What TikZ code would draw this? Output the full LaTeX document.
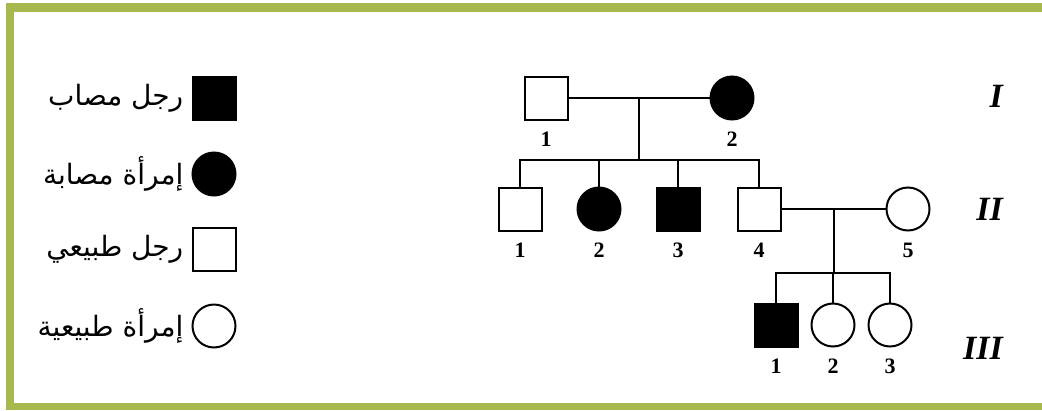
\documentclass[tikz,border=0pt]{standalone}
\usepackage{fontspec}
\setmainfont{Liberation Serif}
\newfontfamily\arabicfont[Script=Arabic]{DejaVu Sans}
\TeXXeTstate=1
\usepackage{tikz}
\usetikzlibrary{positioning}
\definecolor{frameolive}{RGB}{166,185,78}

\begin{document}
\begin{tikzpicture}[
    x=1pt, y=-1pt,
    node distance=10pt,
    person/.style={draw, line width=2pt, minimum size=43pt, inner sep=0pt},
    male/.style={person, rectangle},
    female/.style={person, circle},
    amale/.style={male, fill=black},
    afemale/.style={female, fill=black},
    num/.style={font=\fontsize{22}{22}\selectfont\bfseries, inner sep=0pt},
    gen/.style={font=\fontsize{34}{34}\selectfont\bfseries\itshape, inner sep=0pt, anchor=east},
    legtext/.style={font=\fontsize{28}{32}\arabicfont, inner sep=0pt, anchor=east},
    tie/.style={line width=2pt},
]
    \useasboundingbox (0,0) rectangle (1042,410);
    % frame
    \fill[frameolive] (6,3) rectangle (14,410);
    \fill[frameolive] (6,3) rectangle (1042,12);
    \fill[frameolive] (6,403) rectangle (1042,410);

    % Legend
    \node[amale] (lg1) at (214,98) {};
    \node[afemale] (lg2) at (214,174) {};
    \node[male] (lg3) at (214,249) {};
    \node[female] (lg4) at (214,326) {};
    \node[legtext, left=8pt of lg1.west] (lt1) {\beginR رجل مصاب\endR};
    \node[legtext, left=8pt of lg2.west] (lt2) {\beginR إمرأة مصابة\endR};
    \node[legtext, left=8pt of lg3.west] (lt3) {\beginR رجل طبيعي\endR};
    \node[legtext, left=8pt of lg4.west] (lt4) {\beginR إمرأة طبيعية\endR};

    % Generation I
    \node[male] (i1) at (546,98) {};
    \node[afemale] (i2) at (732,98) {};
    \node[num, below=11pt of i1] {1};
    \node[num, below=11pt of i2] {2};

    % Generation II
    \node[male] (ii1) at (520,209) {};
    \node[afemale] (ii2) at (599,209) {};
    \node[amale] (ii3) at (678,209) {};
    \node[male] (ii4) at (759,209) {};
    \node[female] (ii5) at (908,209) {};
    \node[num, below=11pt of ii1] {1};
    \node[num, below=11pt of ii2] {2};
    \node[num, below=11pt of ii3] {3};
    \node[num, below=11pt of ii4] {4};
    \node[num, below=11pt of ii5] {5};

    % Generation III
    \node[amale] (iii1) at (776,325) {};
    \node[female] (iii2) at (833,325) {};
    \node[female] (iii3) at (890,325) {};
    \node[num, below=11pt of iii1] {1};
    \node[num, below=11pt of iii2] {2};
    \node[num, below=11pt of iii3] {3};

    % matings and sibships
    \draw[tie] (i1) -- node[coordinate] (m1) {} (i2);
    \draw[tie] (m1) -- ++(0,62) coordinate (s1);
    \draw[tie] (ii1.north) |- (s1) -| (ii4.north);
    \draw[tie] (ii2.north) -- (ii2.north |- s1);
    \draw[tie] (ii3.north) -- (ii3.north |- s1);

    \draw[tie] (ii4) -- node[coordinate] (m2) {} (ii5);
    \draw[tie] (m2) -- ++(0,64) coordinate (s2);
    \draw[tie] (iii1.north) |- (s2) -| (iii3.north);
    \draw[tie] (iii2.north) -- (iii2.north |- s2);

    % generation labels
    \node[gen] (g1) at (1003,96) {I};
    \node[gen] (g2) at (1003,209) {II};
    \node[gen] (g3) at (1003,348) {III};
\end{tikzpicture}
\end{document}
